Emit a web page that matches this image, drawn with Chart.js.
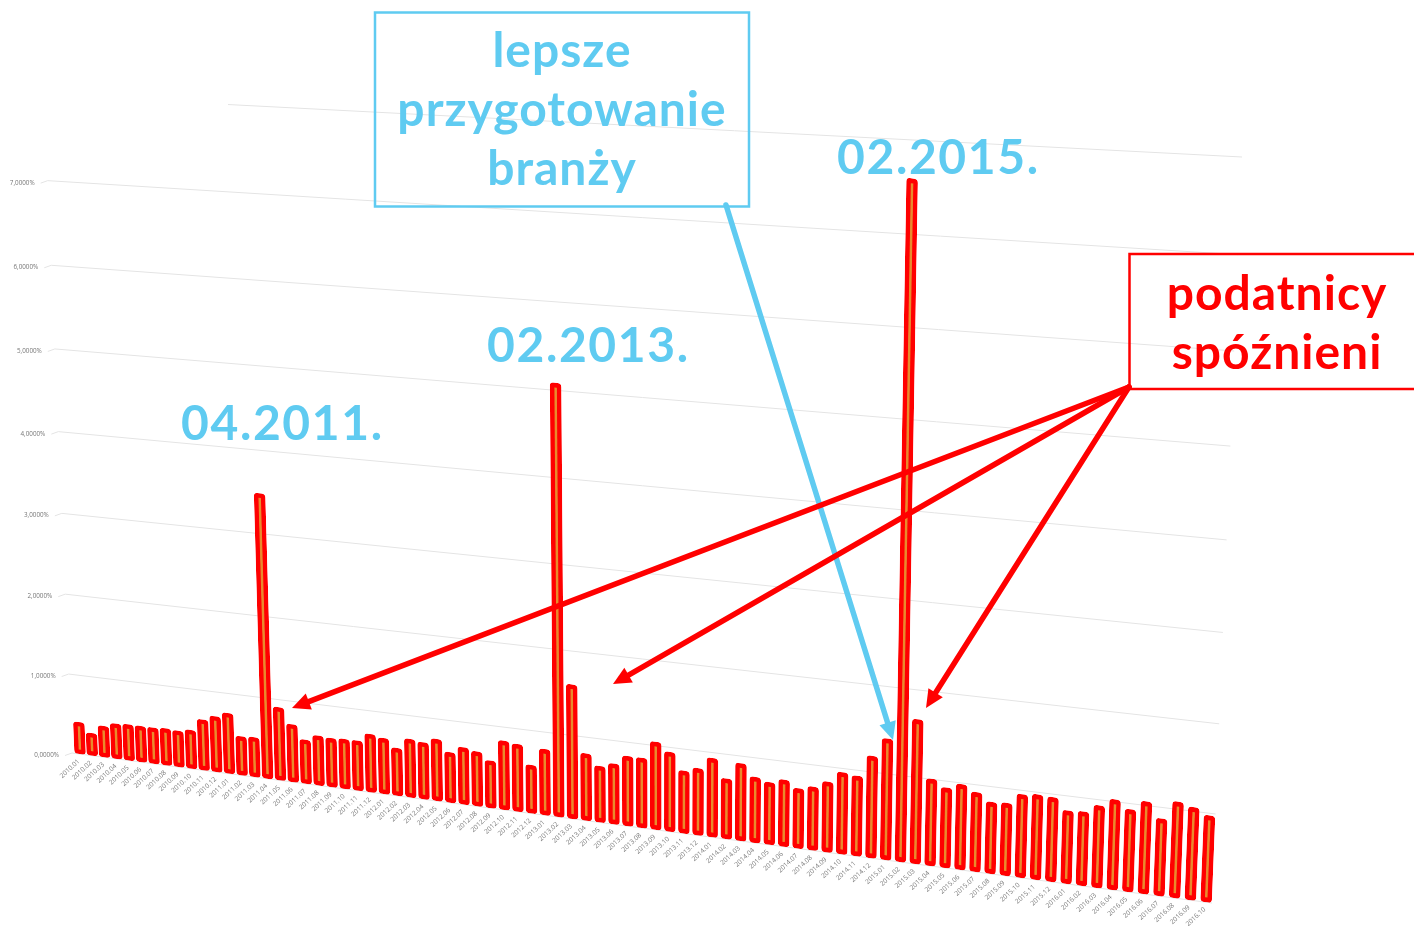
<!DOCTYPE html>
<html lang="pl"><head><meta charset="utf-8">
<style>html,body{margin:0;padding:0;background:#fff}canvas{display:block}</style>
<script src="https://cdn.jsdelivr.net/npm/chart.js@4"></script>
</head><body><canvas id="c" width="1414" height="926"></canvas>
<script>
const categories = ["2010.01","2010.02","2010.03","2010.04","2010.05","2010.06","2010.07","2010.08","2010.09","2010.10","2010.11","2010.12",
"2011.01","2011.02","2011.03","2011.04","2011.05","2011.06","2011.07","2011.08","2011.09","2011.10","2011.11","2011.12",
"2012.01","2012.02","2012.03","2012.04","2012.05","2012.06","2012.07","2012.08","2012.09","2012.10","2012.11","2012.12",
"2013.01","2013.02","2013.03","2013.04","2013.05","2013.06","2013.07","2013.08","2013.09","2013.10","2013.11","2013.12",
"2014.01","2014.02","2014.03","2014.04","2014.05","2014.06","2014.07","2014.08","2014.09","2014.10","2014.11","2014.12",
"2015.01","2015.02","2015.03","2015.04","2015.05","2015.06","2015.07","2015.08","2015.09","2015.10","2015.11","2015.12",
"2016.01","2016.02","2016.03","2016.04","2016.05","2016.06","2016.07","2016.08","2016.09","2016.10"];
const values = [.40,.28,.39,.44,.45,.45,.45,.46,.45,.48,.63,.69,
.75,.48,.49,3.48,.90,.71,.54,.61,.60,.61,.61,.71,
.68,.58,.71,.69,.75,.61,.69,.66,.57,.83,.81,.58,
.79,5.08,1.60,.80,.67,.72,.83,.83,1.04,.94,.74,.79,
.93,.71,.91,.77,.73,.78,.70,.74,.82,.95,.93,1.18,
1.40,7.59,1.66,1.00,.92,.98,.91,.82,.83,.95,.97,.96,
.83,.84,.93,1.02,.93,1.04,.87,1.08,1.04,.97];
const peakLabels = ["04.2011.","02.2013.","02.2015."];
const noteBlue = ["lepsze","przygotowanie","branży"];
const noteRed = ["podatnicy","spóźnieni"];

// Perspective of the 3D wall: chart-area corners -> picture corners
const Q = {p0:[72,753], p1:[1212,903], p2:[1242,157], p3:[44,95]};
function homography(){
  const [x0,y0]=Q.p0,[x1,y1]=Q.p1,[x2,y2]=Q.p2,[x3,y3]=Q.p3;
  const dx1=x1-x2,dx2=x3-x2,sx=x0-x1+x2-x3,dy1=y1-y2,dy2=y3-y2,sy=y0-y1+y2-y3;
  const det=dx1*dy2-dx2*dy1;
  const g=(sx*dy2-dx2*sy)/det,h=(dx1*sy-sx*dy1)/det;
  return {a:x1-x0+g*x1,b:x3-x0+h*x3,c:x0,d:y1-y0+g*y1,e:y3-y0+h*y3,f:y0,g,h};
}
const M = homography();
function proj(chart,px,py){
  const A=chart.chartArea;
  const s=(px-A.left)/(A.right-A.left),t=(A.bottom-py)/(A.bottom-A.top);
  const w=M.g*s+M.h*t+1;
  return [(M.a*s+M.b*t+M.c)/w,(M.d*s+M.e*t+M.f)/w];
}
const BLUE='#5fcbf1', RED='#ff0000', GRID='#e4e4e4', TICK='#777777';

function arrow(ctx,x0,y0,x1,y1,color,lw,hl,hw){
  const L=Math.hypot(x1-x0,y1-y0),ux=(x1-x0)/L,uy=(y1-y0)/L;
  ctx.strokeStyle=color;ctx.fillStyle=color;ctx.lineWidth=lw;ctx.lineCap='round';
  ctx.beginPath();ctx.moveTo(x0,y0);ctx.lineTo(x1-ux*hl*.8,y1-uy*hl*.8);ctx.stroke();
  ctx.beginPath();ctx.moveTo(x1,y1);
  ctx.lineTo(x1-ux*hl-uy*hw/2,y1-uy*hl+ux*hw/2);
  ctx.lineTo(x1-ux*hl+uy*hw/2,y1-uy*hl-ux*hw/2);
  ctx.closePath();ctx.fill();
}
function label(ctx,t,x,y,font,color,spacing,align){
  ctx.font=font;ctx.fillStyle=color;ctx.textAlign=align||'center';ctx.textBaseline='alphabetic';
  ctx.letterSpacing=spacing||'0px';ctx.fillText(t,x,y);ctx.letterSpacing='0px';
}

const perspective = {
  id:'perspective',
  beforeDatasetsDraw(chart){
    const ctx=chart.ctx,ys=chart.scales.y,A=chart.chartArea;
    ctx.save();
    ys.ticks.forEach(tk=>{
      const py=ys.getPixelForValue(tk.value);
      const a=proj(chart,A.left,py),b=proj(chart,A.right,py);
      ctx.save();
      if(tk.value===ys.max){ctx.beginPath();ctx.rect(228,0,1200,926);ctx.clip();}
      ctx.strokeStyle=GRID;ctx.lineWidth=1;
      ctx.beginPath();
      if(tk.value!==ys.max) ctx.moveTo(a[0]-7,a[1]+2.5); else ctx.moveTo(a[0],a[1]);
      ctx.lineTo(a[0],a[1]);ctx.lineTo(b[0],b[1]);ctx.stroke();
      ctx.restore();
      if(tk.label) label(ctx,tk.label,a[0]-13,a[1]+4,'6.3px "Open Sans"',TICK,'0px','right');
    });
    const xs=chart.scales.x,meta=chart.getDatasetMeta(0);
    xs.ticks.forEach((tk,i)=>{
      const el=meta.data[i],p=proj(chart,el.x,el.base);
      ctx.save();ctx.translate(p[0]+2,p[1]+8);ctx.rotate(-43*Math.PI/180);
      label(ctx,xs.getLabelForValue(tk.value),0,0,'6.6px "Open Sans"',TICK,'0px','right');
      ctx.restore();
    });
    ctx.restore();
  },
  beforeDatasetDraw(chart,args){
    const ctx=chart.ctx;
    args.meta.data.forEach(el=>{
      const o=proj(chart,el.x,el.base),r=proj(chart,el.x+1,el.base),u=proj(chart,el.x,el.y);
      const len=Math.hypot(r[0]-o[0],r[1]-o[1]);
      const ex=[(r[0]-o[0])/len,(r[1]-o[1])/len];
      const d=el.y-el.base||-1;
      const ey=[(u[0]-o[0])/d,(u[1]-o[1])/d];
      const ox=o[0]+2;
      ctx.save();
      ctx.setTransform(ex[0],ex[1],ey[0],ey[1],ox-ex[0]*el.x-ey[0]*el.base,o[1]-ex[1]*el.x-ey[1]*el.base);
      el.draw(ctx);
      ctx.restore();
    });
    return false;
  },
  afterDraw(chart){
    const ctx=chart.ctx;
    ctx.save();
    const big='700 48px Lato', num='700 48px Lato';
    arrow(ctx,726,205,893,740,BLUE,5.5,18,17);
    [[292,708],[613,684],[926,708]].forEach(t=>arrow(ctx,1129,387,t[0],t[1],RED,5.5,18,17));
    ctx.lineCap='butt';
    ctx.strokeStyle=BLUE;ctx.lineWidth=2.5;ctx.strokeRect(375,12.5,374,194);
    ctx.strokeStyle=RED;ctx.strokeRect(1129.5,254,300,135);
    const by=[67,126,185];
    noteBlue.forEach((t,i)=>label(ctx,t,562,by[i],big,BLUE,'1px'));
    const ry=[310,369];
    noteRed.forEach((t,i)=>label(ctx,t,1277,ry[i],big,RED,'1px'));
    const px=[[181,440],[487,362],[837,174]];
    peakLabels.forEach((t,i)=>label(ctx,t,px[i][0],px[i][1],num,BLUE,'1.6px','left'));
    ctx.restore();
  }
};

new Chart(document.getElementById('c'),{
  type:'bar',
  data:{labels:categories,datasets:[{data:values,backgroundColor:'#e98a2c',borderColor:RED,borderWidth:4.6,borderRadius:3.5,borderSkipped:false,barThickness:11}]},
  options:{
    responsive:false,animation:false,devicePixelRatio:1,
    layout:{padding:{left:72,right:202,top:95,bottom:173}},
    plugins:{legend:{display:false},tooltip:{enabled:false},title:{display:false}},
    scales:{
      x:{grid:{display:false},border:{display:false},ticks:{display:false,autoSkip:false}},
      y:{min:0,max:8,grid:{display:false},border:{display:false},
         ticks:{display:false,stepSize:1,callback:v=>v===8?'':v.toFixed(4).replace('.',',')+'%'}}
    }
  },
  plugins:[perspective]
});
</script></body></html>
